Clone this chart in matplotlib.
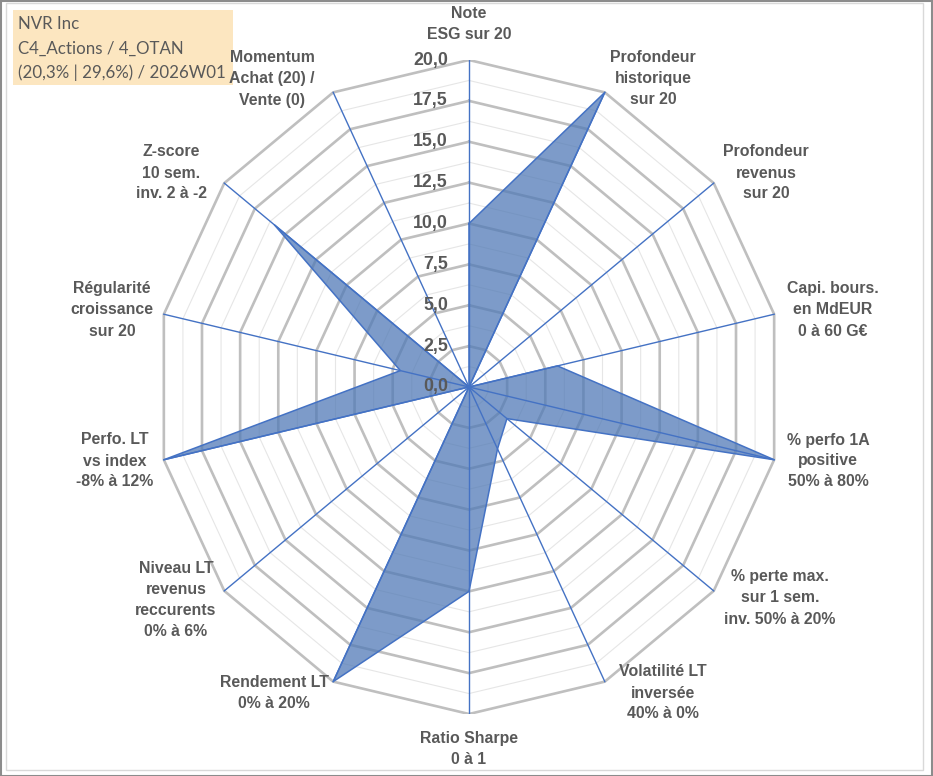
"""Radar NVR Inc : 14 critères notés sur 20 (reproduction du graphique Excel)."""

import numpy as np
import matplotlib

matplotlib.use("Agg")
import matplotlib.pyplot as plt
from matplotlib.patches import Rectangle

# ---- données -------------------------------------------------------------
categories = [
    "Note\nESG sur 20",
    "Profondeur\nhistorique\nsur 20",
    "Profondeur\nrevenus\nsur 20",
    "Capi. bours.\nen MdEUR\n0 à 60 G€",
    "% perfo 1A\npositive\n50% à 80%",
    "% perte max.\nsur 1 sem.\ninv. 50% à 20%",
    "Volatilité LT\ninversée\n40% à 0%",
    "Ratio Sharpe\n0 à 1",
    "Rendement LT\n0% à 20%",
    "Niveau LT\nrevenus\nreccurents\n0% à 6%",
    "Perfo. LT\nvs index\n-8% à 12%",
    "Régularité\ncroissance\nsur 20",
    "Z-score\n10 sem.\ninv. 2 à -2",
    "Momentum\nAchat (20) /\nVente (0)",
]
scores = [10.0, 20.0, 0.0, 5.8, 20.0, 3.1, 4.2, 12.5, 20.0, 0.0, 20.0, 4.5, 15.9, 0.0]
ticks = [0.0, 2.5, 5.0, 7.5, 10.0, 12.5, 15.0, 17.5, 20.0]
minor_ticks = [1.25, 3.75, 6.25, 8.75, 11.25, 13.75, 16.25, 18.75]
title_lines = ["NVR Inc", "C4_Actions / 4_OTAN", "(20,3% | 29,6%) / 2026W01"]

# position des étiquettes (centre, en pixels de la figure)
label_px = [
    (469, 24), (653, 78), (766, 173), (833, 310), (828, 461), (780, 598),
    (663, 693), (469, 749), (274, 693), (176, 600), (115, 461), (112, 310),
    (171, 173), (272, 79),
]

W, H = 933, 776
DPI = 100
GREY_TXT = "#595959"
BLUE = "#4472C4"

fig = plt.figure(figsize=(W / DPI, H / DPI), dpi=DPI)

# centre du radar et rayons (image légèrement étirée verticalement)
cx, cy = 469, 387
rx, ry = 313, 327
ax = fig.add_axes([(cx - rx) / W, 1 - (cy + ry) / H, 2 * rx / W, 2 * ry / H])
ax.set_xlim(-20, 20)
ax.set_ylim(-20, 20)
ax.set_aspect("auto")
ax.axis("off")

n = len(categories)
theta = np.arange(n) * 2 * np.pi / n
th_closed = np.append(theta, theta[0])
sx, cy_ = np.sin(th_closed), np.cos(th_closed)

# grille polygonale
for r in minor_ticks:
    ax.plot(r * sx, r * cy_, color="#E6E6E6", lw=0.8, zorder=1)
for r in ticks[1:]:
    ax.plot(r * sx, r * cy_, color="#BFBFBF", lw=1.9, zorder=2)

# série
vals = np.append(scores, scores[0])
ax.fill(vals * sx, vals * cy_, color="#5079B6", alpha=0.74, lw=0, zorder=3)
ax.plot(vals * sx, vals * cy_, color=BLUE, lw=1.1, zorder=5)

# rayons
for t in theta:
    ax.plot([0, 20 * np.sin(t)], [0, 20 * np.cos(t)], color=BLUE, lw=1.0, zorder=4)

# graduations
for v in ticks:
    ax.text(-1.35, v, f"{v:.1f}".replace(".", ","), ha="right", va="center",
            fontsize=12.8, fontweight="bold", color=GREY_TXT,
            family="Liberation Sans", zorder=6)

# étiquettes des axes
for lab, (px, py) in zip(categories, label_px):
    fig.text(px / W, 1 - py / H, lab, ha="center", va="center", fontsize=11.4,
             fontweight="bold", color=GREY_TXT, family="Liberation Sans",
             linespacing=1.5)

# cartouche titre
fig.patches.append(Rectangle((13 / W, 1 - 85 / H), 220 / W, 75 / H,
                             transform=fig.transFigure, facecolor="#FCE6C0",
                             edgecolor="none", zorder=0))
for i, line in enumerate(title_lines):
    fig.text(18 / W, 1 - (24 + 24.5 * i) / H, line, ha="left", va="center",
             fontsize=12.2, color=GREY_TXT, family="Lato")

# cadres
fig.patches.append(Rectangle((6 / W, 1 - 770 / H), 917 / W, 767 / H,
                             transform=fig.transFigure, facecolor="none",
                             edgecolor="#D9D9D9", lw=1.0))
fig.patches.append(Rectangle((0.5 / W, 0.5 / H), (W - 1.5) / W, (H - 1.5) / H,
                             transform=fig.transFigure, facecolor="none",
                             edgecolor="#8C8C8C", lw=1.5))

fig.savefig("out.png", dpi=DPI)
plt.close(fig)
